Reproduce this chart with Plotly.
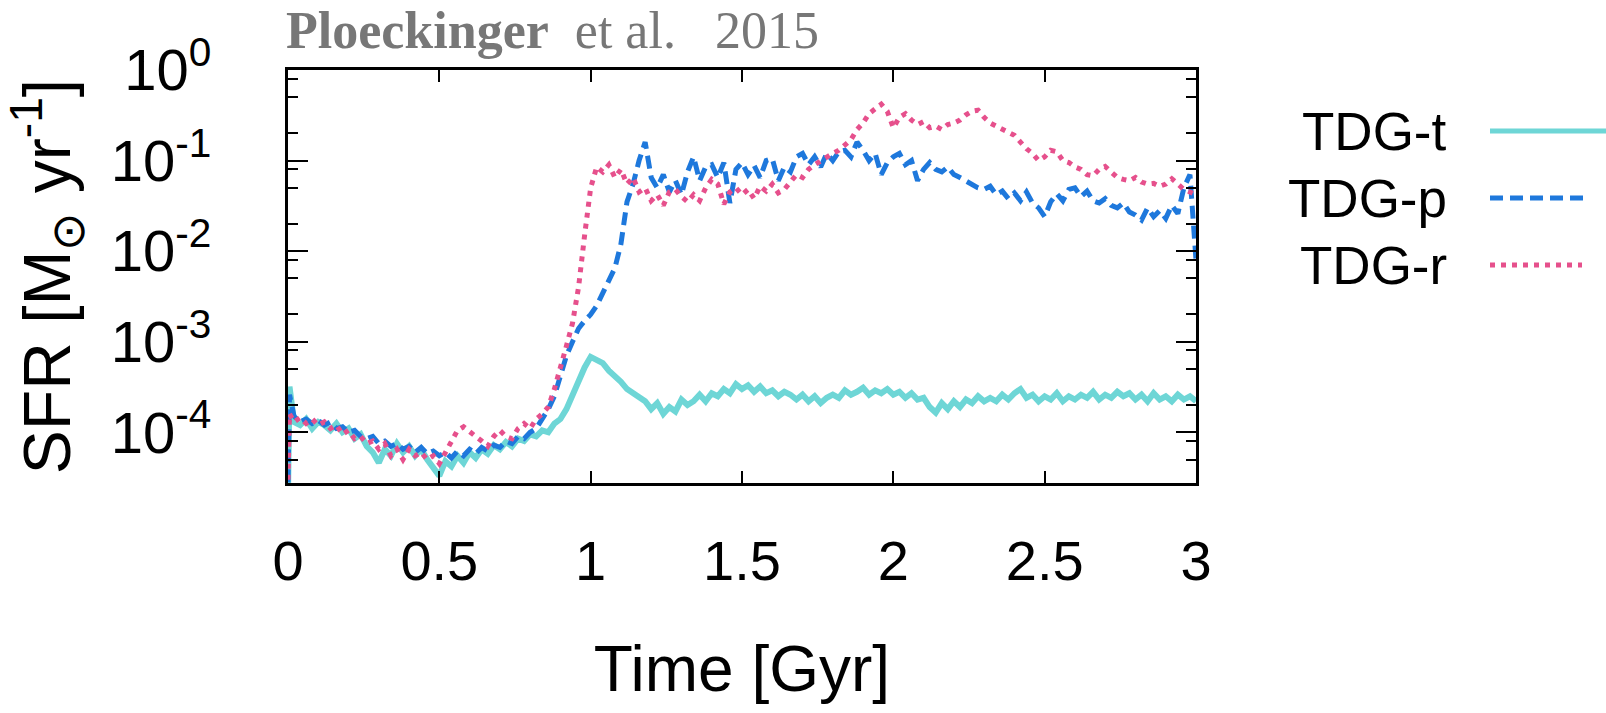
import plotly.graph_objects as go

# ---------------- data ----------------
TIME_GYR = [0.0, 0.005] + [round(0.02 * k, 2) for k in range(1, 151)]

SFR_TDG_T = [
    2.0e-5, 3.2e-4,
    1.3e-4, 1.2e-4, 1.4e-4, 1.1e-4, 1.3e-4, 1.2e-4, 1.05e-4, 1.25e-4, 1.0e-4, 1.1e-4,
    8.5e-5, 9.5e-5, 7.0e-5, 6.0e-5, 4.6e-5, 6.5e-5, 5.5e-5, 7.5e-5, 6.0e-5, 7.0e-5,
    5.5e-5, 6.5e-5, 5.0e-5, 4.0e-5, 3.3e-5, 4.8e-5, 4.2e-5, 5.5e-5, 4.6e-5, 6.0e-5,
    5.2e-5, 6.5e-5, 5.8e-5, 7.2e-5, 6.5e-5, 7.8e-5, 7.0e-5, 8.5e-5, 8.0e-5, 9.5e-5,
    9.0e-5, 1.05e-4, 1.0e-4, 1.25e-4, 1.4e-4, 1.8e-4, 2.6e-4, 3.8e-4, 5.2e-4, 6.8e-4,
    6.2e-4, 5.8e-4, 4.8e-4, 4.2e-4, 3.6e-4, 3.0e-4, 2.7e-4, 2.4e-4, 2.2e-4,
    1.8e-4, 2.1e-4, 1.6e-4, 1.9e-4, 1.7e-4, 2.3e-4, 2.0e-4, 2.2e-4, 2.6e-4, 2.2e-4,
    2.7e-4, 2.5e-4, 3.0e-4, 2.7e-4, 3.4e-4, 3.0e-4, 3.3e-4, 2.8e-4, 3.2e-4, 2.7e-4,
    2.9e-4, 2.5e-4, 2.8e-4, 2.6e-4, 2.3e-4, 2.6e-4, 2.2e-4, 2.5e-4, 2.1e-4, 2.4e-4,
    2.6e-4, 2.4e-4, 2.9e-4, 2.6e-4, 2.8e-4, 3.1e-4, 2.6e-4, 2.9e-4, 2.7e-4, 3.0e-4,
    2.6e-4, 2.8e-4, 2.4e-4, 2.7e-4, 2.3e-4, 2.4e-4, 1.9e-4, 1.65e-4, 2.1e-4, 1.8e-4,
    2.2e-4, 1.9e-4, 2.3e-4, 2.1e-4, 2.5e-4, 2.2e-4, 2.4e-4, 2.2e-4, 2.6e-4, 2.3e-4,
    2.7e-4, 3.0e-4, 2.4e-4, 2.6e-4, 2.2e-4, 2.5e-4, 2.3e-4, 2.7e-4, 2.2e-4, 2.5e-4,
    2.3e-4, 2.6e-4, 2.4e-4, 2.8e-4, 2.3e-4, 2.6e-4, 2.4e-4, 2.8e-4, 2.5e-4, 2.7e-4,
    2.3e-4, 2.6e-4, 2.2e-4, 2.7e-4, 2.3e-4, 2.5e-4, 2.2e-4, 2.6e-4, 2.3e-4, 2.5e-4,
    2.2e-4,
]

SFR_TDG_P = [
    2.8e-5, 2.6e-4,
    1.5e-4, 1.3e-4, 1.4e-4, 1.25e-4, 1.35e-4, 1.2e-4, 1.3e-4, 1.1e-4, 1.15e-4, 1.0e-4,
    1.05e-4, 9.0e-5, 8.5e-5, 9.0e-5, 7.5e-5, 8.0e-5, 7.0e-5, 7.5e-5, 6.5e-5, 7.0e-5,
    6.0e-5, 6.8e-5, 5.8e-5, 6.2e-5, 5.5e-5, 6.0e-5, 5.2e-5, 6.2e-5, 5.5e-5, 6.5e-5,
    5.8e-5, 6.8e-5, 6.2e-5, 7.2e-5, 6.8e-5, 8.0e-5, 7.5e-5, 9.0e-5, 8.5e-5, 1.0e-4,
    1.1e-4, 1.4e-4, 1.8e-4, 2.5e-4, 4.0e-4, 7.0e-4, 1.0e-3, 1.4e-3, 1.7e-3, 2.0e-3,
    2.5e-3, 3.4e-3, 4.6e-3, 6.5e-3, 1.2e-2, 3.5e-2, 5.5e-2, 1.0e-1, 1.6e-1, 6.5e-2,
    5.0e-2, 7.0e-2, 4.5e-2, 6.0e-2, 4.2e-2, 7.5e-2, 1.1e-1, 6.0e-2, 8.5e-2, 9.0e-2,
    6.5e-2, 9.5e-2, 3.4e-2, 8.0e-2, 9.5e-2, 7.0e-2, 8.8e-2, 6.5e-2, 1.0e-1, 1.05e-1,
    6.0e-2, 8.5e-2, 7.5e-2, 1.1e-1, 1.2e-1, 9.0e-2, 1.1e-1, 8.5e-2, 1.2e-1, 1.0e-1,
    1.25e-1, 1.3e-1, 1.1e-1, 1.6e-1, 1.3e-1, 1.0e-1, 1.2e-1, 7.0e-2, 9.5e-2, 1.1e-1,
    1.2e-1, 9.0e-2, 1.0e-1, 6.0e-2, 8.0e-2, 9.5e-2, 8.0e-2, 7.5e-2, 8.5e-2, 7.0e-2,
    6.5e-2, 6.0e-2, 5.5e-2, 5.0e-2, 4.8e-2, 5.2e-2, 4.2e-2, 4.6e-2, 3.8e-2, 4.4e-2,
    3.6e-2, 4.5e-2, 3.4e-2, 3.0e-2, 2.4e-2, 3.5e-2, 4.3e-2, 3.6e-2, 4.8e-2, 5.0e-2,
    4.0e-2, 4.6e-2, 3.6e-2, 3.4e-2, 3.8e-2, 3.2e-2, 3.0e-2, 3.4e-2, 2.7e-2, 2.5e-2,
    2.2e-2, 3.0e-2, 2.4e-2, 2.8e-2, 2.3e-2, 3.2e-2, 2.6e-2, 5.0e-2, 7.0e-2, 8.0e-3,
]

SFR_TDG_R = [
    3.0e-5, 1.6e-4,
    1.3e-4, 1.45e-4, 1.25e-4, 1.4e-4, 1.2e-4, 1.3e-4, 1.1e-4, 1.2e-4, 9.5e-5, 1.05e-4,
    8.5e-5, 9.0e-5, 7.5e-5, 8.0e-5, 6.5e-5, 7.5e-5, 5.5e-5, 6.5e-5, 5.0e-5, 6.5e-5,
    5.5e-5, 6.0e-5, 5.0e-5, 5.5e-5, 4.5e-5, 6.0e-5, 8.0e-5, 1.05e-4, 1.15e-4, 1.0e-4,
    9.0e-5, 8.0e-5, 7.0e-5, 9.0e-5, 1.05e-4, 9.0e-5, 8.5e-5, 1.1e-4, 1.25e-4, 1.1e-4,
    1.4e-4, 1.6e-4, 1.9e-4, 3.0e-4, 5.5e-4, 9.0e-4, 1.6e-3, 4.0e-3, 1.5e-2, 5.0e-2,
    8.5e-2, 7.5e-2, 9.0e-2, 6.5e-2, 8.0e-2, 5.5e-2, 6.5e-2, 4.5e-2, 5.0e-2, 3.6e-2,
    4.2e-2, 3.2e-2, 4.5e-2, 4.8e-2, 4.0e-2, 3.5e-2, 4.2e-2, 3.6e-2, 5.0e-2, 6.2e-2,
    5.5e-2, 3.3e-2, 4.5e-2, 5.0e-2, 4.2e-2, 4.8e-2, 3.8e-2, 5.2e-2, 4.6e-2, 5.5e-2,
    4.4e-2, 4.8e-2, 5.8e-2, 7.0e-2, 6.5e-2, 8.0e-2, 9.0e-2, 1.0e-1, 1.1e-1, 1.2e-1,
    1.3e-1, 1.5e-1, 1.7e-1, 2.2e-1, 2.6e-1, 3.3e-1, 3.8e-1, 4.2e-1, 3.5e-1, 2.3e-1,
    3.0e-1, 3.3e-1, 2.8e-1, 2.5e-1, 2.7e-1, 2.3e-1, 2.4e-1, 2.2e-1, 2.5e-1, 2.6e-1,
    2.8e-1, 3.2e-1, 3.5e-1, 3.6e-1, 3.0e-1, 2.6e-1, 2.4e-1, 2.2e-1, 2.0e-1, 1.9e-1,
    1.6e-1, 1.35e-1, 1.2e-1, 1.0e-1, 1.1e-1, 1.3e-1, 1.25e-1, 1.0e-1, 9.5e-2, 8.5e-2,
    8.0e-2, 7.0e-2, 6.8e-2, 8.0e-2, 8.6e-2, 7.5e-2, 6.5e-2, 6.2e-2, 6.0e-2, 6.5e-2,
    5.8e-2, 5.5e-2, 5.6e-2, 5.2e-2, 5.5e-2, 6.3e-2, 5.5e-2, 4.8e-2, 4.5e-2, 4.2e-2,
]

SERIES_NAMES = ["TDG-t", "TDG-p", "TDG-r"]
SERIES_COLORS = ["#6ED6D6", "#1E78DC", "#E6508C"]
SERIES_DASHES = ["solid", "13px,7px", "5px,6px"]
SERIES_WIDTHS = [6, 5, 5]

X_TICK_VALUES = [0, 0.5, 1, 1.5, 2, 2.5, 3]
X_TICK_LABELS = ["0", "0.5", "1", "1.5", "2", "2.5", "3"]
Y_TICK_VALUES = [1e-4, 1e-3, 1e-2, 1e-1, 1]
Y_TICK_LABELS = ["10<sup>-4</sup>", "10<sup>-3</sup>", "10<sup>-2</sup>",
                 "10<sup>-1</sup>", "10<sup>0</sup>"]
Y_MINOR_VALUES = [m * d for d in [1e-5, 1e-4, 1e-3, 1e-2, 1e-1] for m in (2, 5, 8)]

# ---------------- figure ----------------
W, H = 1606, 713
L, R, T, B = 288, 410, 70, 230
PW, PH = W - L - R, H - T - B


def px_x(px):
    return (px - L) / PW


def px_y(py):
    return (H - B - py) / PH


SANS = "Liberation Sans, Arial, Helvetica, sans-serif"
SERIF = "Liberation Serif, Times New Roman, serif"

fig = go.Figure()
for name, ys, col, dash, lw in zip(SERIES_NAMES, [SFR_TDG_T, SFR_TDG_P, SFR_TDG_R],
                                   SERIES_COLORS, SERIES_DASHES, SERIES_WIDTHS):
    fig.add_trace(go.Scatter(x=TIME_GYR, y=ys, mode="lines", name=name,
                             line=dict(color=col, width=lw, dash=dash),
                             showlegend=False))

fig.update_layout(
    width=W, height=H,
    margin=dict(l=L, r=R, t=T, b=B, pad=0),
    paper_bgcolor="white", plot_bgcolor="white",
    font=dict(family=SANS, color="black", size=58),
)

fig.update_xaxes(
    range=[0, 3], tickmode="array", tickvals=X_TICK_VALUES, ticktext=X_TICK_LABELS,
    ticks="inside", ticklen=12, tickwidth=2, tickcolor="black",
    showline=True, linecolor="black", linewidth=3, mirror="ticks",
    showgrid=False, zeroline=False, ticklabelstandoff=27,
    tickfont=dict(size=56),
    title=dict(text="Time [Gyr]", font=dict(size=64), standoff=55),
)
fig.update_yaxes(
    type="log", range=[-4.56, 0], tickmode="array",
    tickvals=Y_TICK_VALUES, ticktext=Y_TICK_LABELS,
    ticks="inside", ticklen=20, tickwidth=2, tickcolor="black",
    minor=dict(tickmode="array", tickvals=Y_MINOR_VALUES, ticks="inside",
               ticklen=10, tickwidth=2, tickcolor="black", showgrid=False),
    showline=True, linecolor="black", linewidth=3, mirror="ticks",
    showgrid=False, zeroline=False, ticklabelstandoff=62,
    tickfont=dict(size=58),
    title=dict(text="SFR [M<sub>\u2299</sub> yr<sup>-1</sup>]", font=dict(size=66),
               standoff=22),
)

# header
fig.add_annotation(
    xref="paper", yref="paper", x=px_x(284), y=px_y(31),
    xanchor="left", yanchor="middle", showarrow=False,
    text="<b>Ploeckinger</b>\u00a0\u00a0et al.\u00a0\u00a0\u00a02015",
    font=dict(family=SERIF, size=52, color="#777777"),
)

# legend (text left, line sample right)
rows_y = [131, 198, 265]
line_end = [1625, 1587, 1582]
for name, col, dash, ry, xe in zip(SERIES_NAMES, SERIES_COLORS, SERIES_DASHES,
                                   rows_y, line_end):
    fig.add_annotation(
        xref="paper", yref="paper", x=px_x(1449), y=px_y(ry),
        xanchor="right", yanchor="middle", showarrow=False,
        text=name, font=dict(family=SANS, size=53, color="black"),
    )
    fig.add_shape(
        type="line", xref="paper", yref="paper",
        x0=px_x(1490), x1=px_x(xe), y0=px_y(ry), y1=px_y(ry),
        line=dict(color=col, width=5, dash=dash),
    )

fig.write_html("out.html")
